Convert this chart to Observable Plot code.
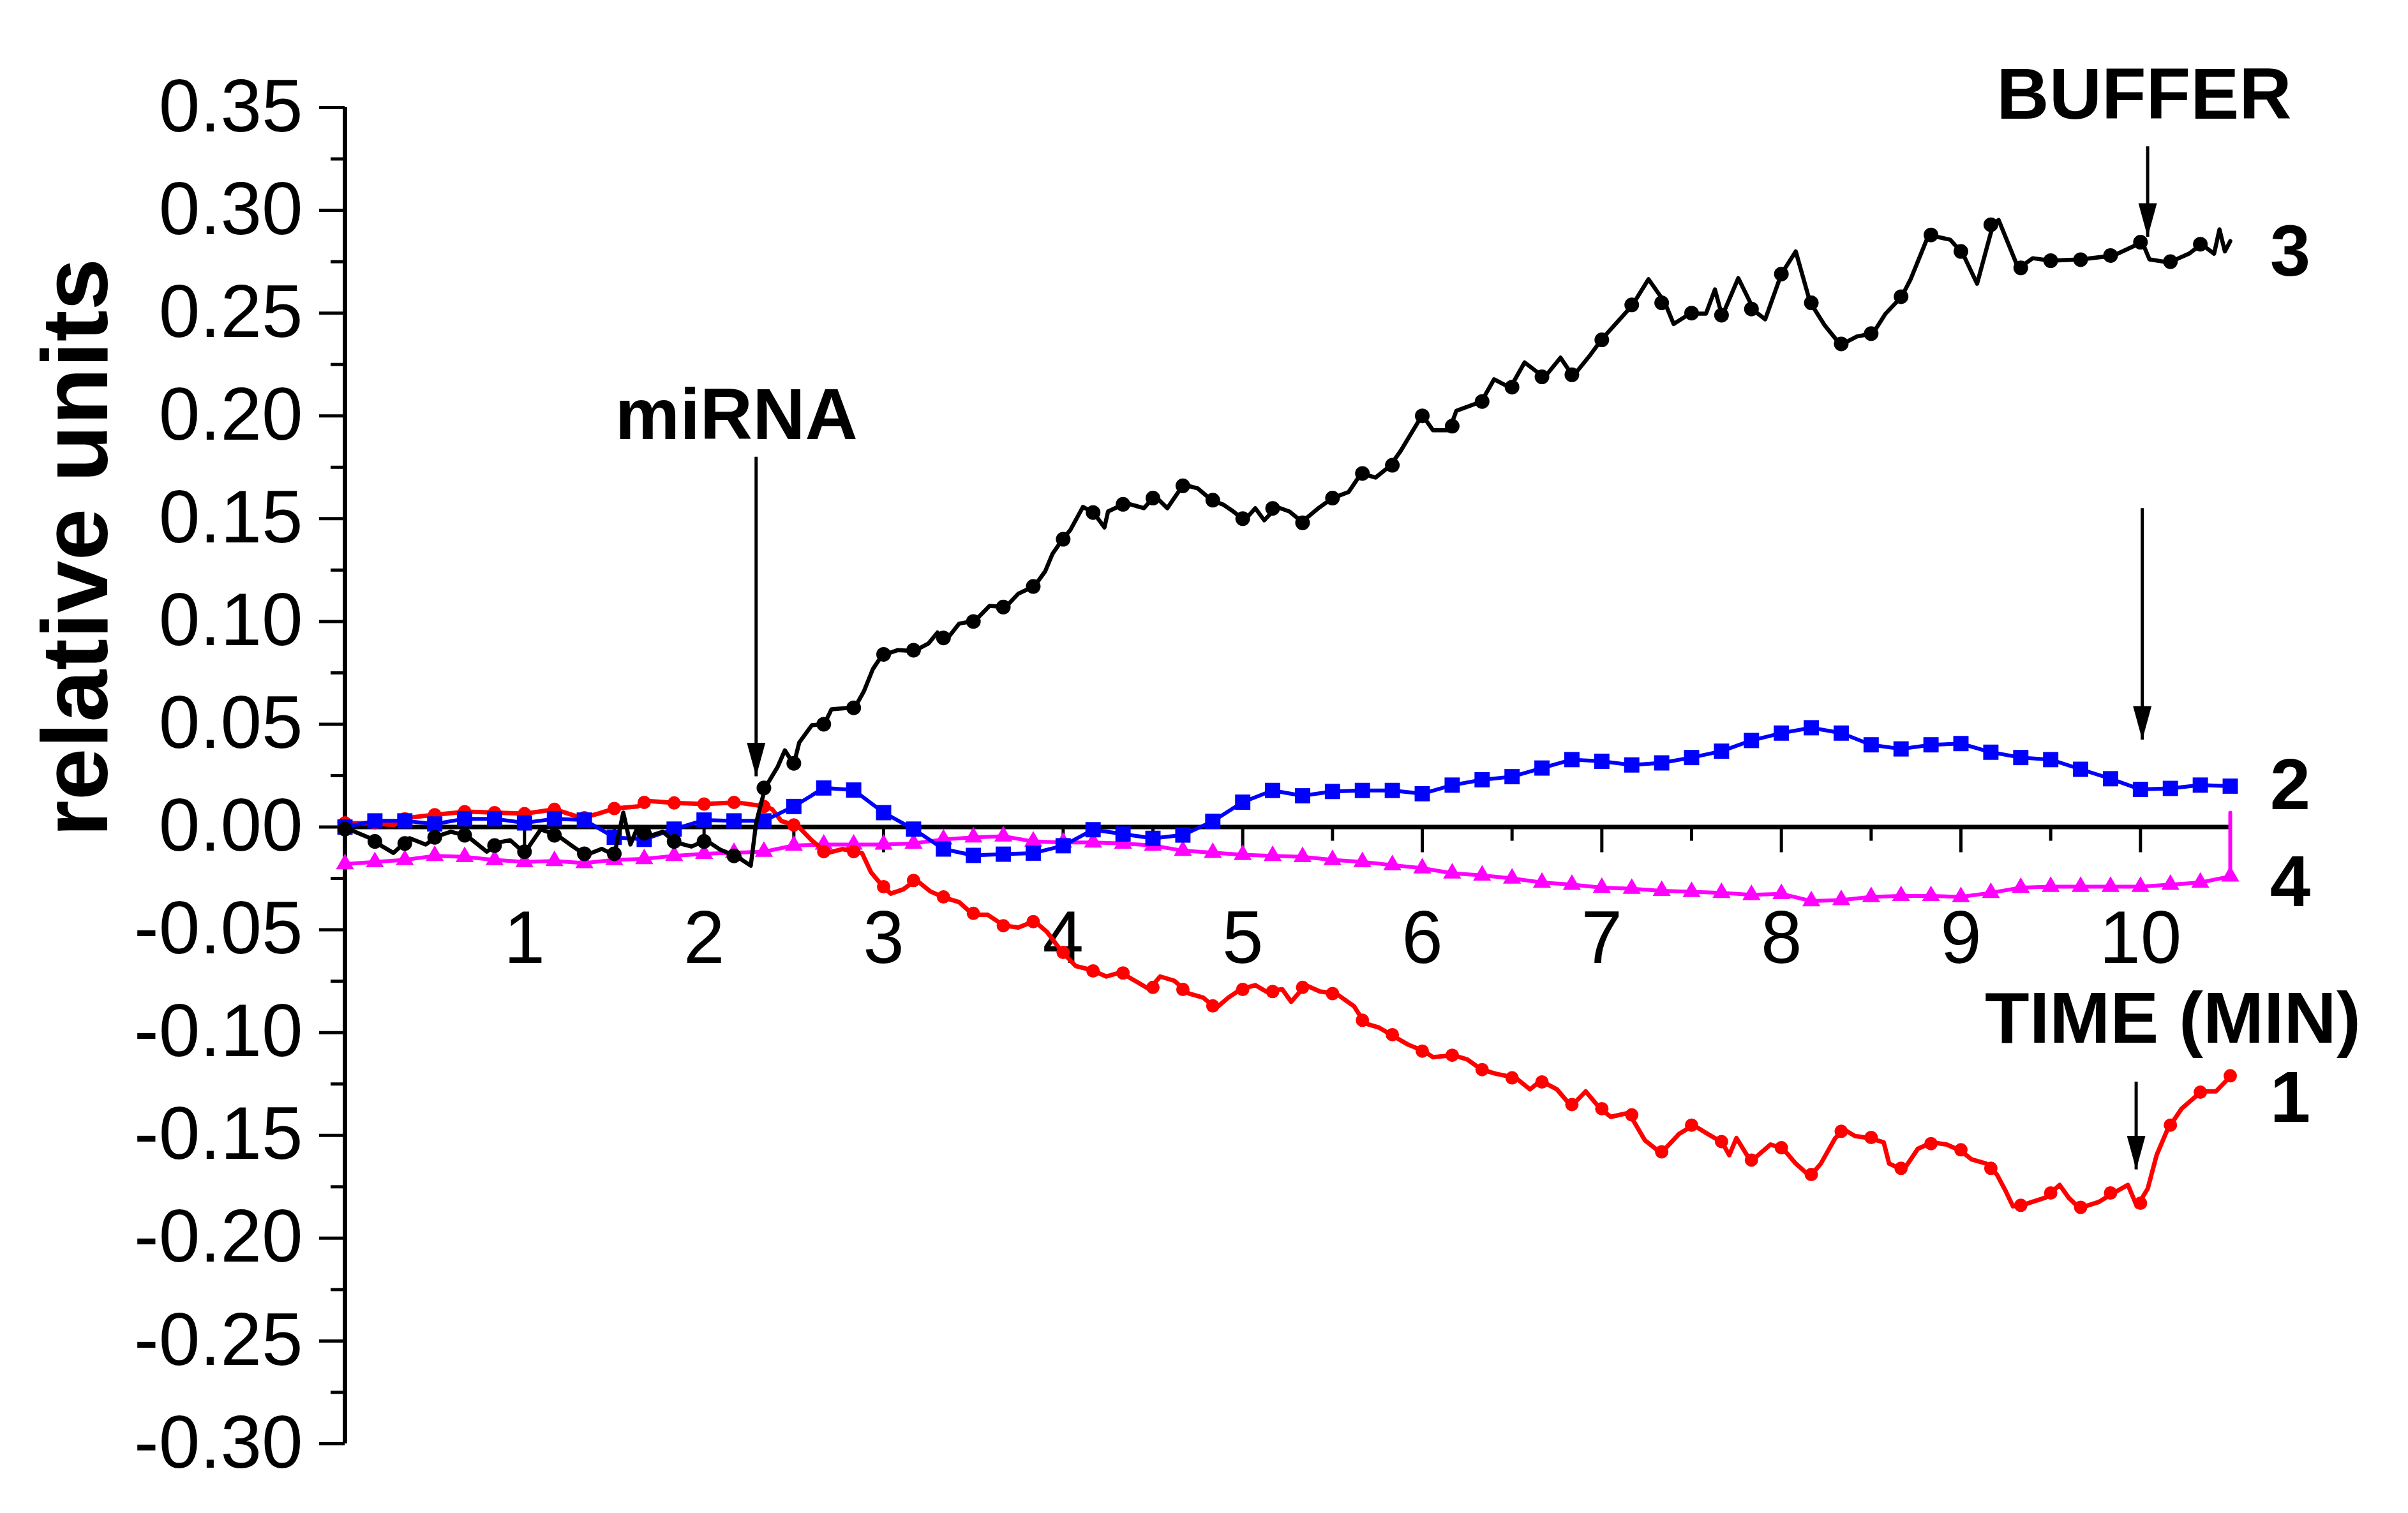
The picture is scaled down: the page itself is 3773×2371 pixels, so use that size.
<!DOCTYPE html>
<html>
<head>
<meta charset="utf-8">
<script src="https://cdn.jsdelivr.net/npm/d3@7"></script>
<script src="https://cdn.jsdelivr.net/npm/@observablehq/plot@0.6"></script>
<style>
  html, body { margin: 0; padding: 0; background: #ffffff; }
  svg { display: block; }
</style>
</head>
<body>
<div id="chart"></div>
<script>
// ---------------- DATA ----------------
// Sampling instants of the markers (seconds); every series has a marker every 10 s.
const sampleSec = [0,10,20,30,40,50,60,70,80,90,100,110,120,130,140,150,160,170,180,190,
  200,210,220,230,240,250,260,270,280,290,300,310,320,330,340,350,360,370,380,390,
  400,410,420,430,440,450,460,470,480,490,500,510,520,530,540,550,560,570,580,590,
  600,610,620,630];

// Curve 1 (red, circles) - marker values
const curve1Red = [0.002,0.002,0.004,0.006,0.0075,0.007,0.0065,0.0086,0.0045,0.009,
  0.012,0.0117,0.0112,0.012,0.010,0.001,-0.012,-0.012,-0.029,-0.026,
  -0.034,-0.042,-0.048,-0.046,-0.061,-0.070,-0.071,-0.078,-0.079,-0.087,
  -0.079,-0.080,-0.078,-0.081,-0.094,-0.101,-0.109,-0.111,-0.118,-0.122,
  -0.124,-0.135,-0.137,-0.140,-0.158,-0.145,-0.153,-0.162,-0.156,-0.169,
  -0.148,-0.151,-0.166,-0.154,-0.157,-0.166,-0.184,-0.178,-0.185,-0.178,
  -0.183,-0.145,-0.129,-0.121];

// Curve 1 continuous trace (time in min, value)
const curve1TraceMin = [0.02,0.14,0.27,0.34,0.50,0.68,0.84,1.00,1.17,1.32,1.41,1.50,1.63,1.68,1.84,2.00,2.18,2.34,2.38,2.43,
  2.52,2.60,2.685,2.77,2.88,2.93,3.00,3.04,3.11,3.18,3.26,3.34,3.42,3.50,3.58,3.67,3.75,3.84,3.91,3.99,
  4.07,4.16,4.24,4.32,4.40,4.48,4.54,4.62,4.70,4.78,4.85,4.92,4.99,5.07,5.13,5.22,5.27,5.35,5.43,5.52,
  5.62,5.68,5.76,5.84,5.92,6.01,6.06,6.17,6.25,6.33,6.41,6.52,6.60,6.66,6.75,6.83,6.91,6.99,7.05,7.15,
  7.24,7.33,7.43,7.51,7.59,7.67,7.71,7.75,7.83,7.94,8.01,8.08,8.16,8.22,8.30,8.35,8.41,8.49,8.57,8.60,
  8.68,8.76,8.84,8.92,9.00,9.06,9.14,9.20,9.25,9.29,9.36,9.47,9.55,9.60,9.66,9.77,9.85,9.93,9.98,10.04,
  10.09,10.15,10.23,10.34,10.42,10.50];
const curve1Trace = [0.0019,0.0019,0.001,0.0044,0.006,0.0075,0.007,0.0065,0.0086,0.0044,0.0065,0.009,0.010,0.0127,0.0117,0.0112,0.012,0.010,0.0086,0.0029,
  0.0007,-0.0065,-0.0127,-0.0107,-0.0127,-0.022,-0.0293,-0.0324,-0.0303,-0.0257,-0.0313,-0.0344,-0.0365,-0.0427,-0.0427,-0.0479,-0.0489,-0.0458,-0.051,-0.0603,
  -0.0676,-0.0696,-0.0727,-0.0707,-0.0748,-0.0789,-0.0727,-0.0748,-0.081,-0.083,-0.0882,-0.083,-0.0789,-0.0769,-0.080,-0.0789,-0.085,-0.0769,-0.080,-0.081,
  -0.0872,-0.0955,-0.0976,-0.1017,-0.1058,-0.109,-0.112,-0.111,-0.113,-0.118,-0.120,-0.122,-0.1276,-0.1234,-0.1276,-0.1358,-0.1286,-0.1369,-0.141,-0.139,
  -0.1524,-0.1586,-0.1493,-0.145,-0.1493,-0.1534,-0.1596,-0.1513,-0.1627,-0.1544,-0.1565,-0.1637,-0.1699,-0.1637,-0.1513,-0.1472,-0.1503,-0.1513,-0.1534,-0.1637,
  -0.1669,-0.1565,-0.1534,-0.1544,-0.1575,-0.1617,-0.1637,-0.169,-0.1772,-0.1845,-0.1834,-0.1803,-0.1741,-0.1803,-0.1854,-0.1823,-0.178,-0.1741,-0.1845,-0.176,
  -0.1596,-0.1472,-0.1369,-0.1286,-0.1286,-0.1214];

// Curve 2 (blue, squares)
const curve2Blue = [0.000,0.003,0.003,0.0015,0.004,0.004,0.002,0.004,0.0034,-0.005,
  -0.006,-0.001,0.0034,0.003,0.003,0.010,0.019,0.018,0.007,-0.001,
  -0.0107,-0.0138,-0.0132,-0.0127,-0.0091,-0.0013,-0.0034,-0.0055,-0.0039,0.0028,
  0.0121,0.0178,0.0152,0.0173,0.0178,0.0178,0.0162,0.0204,0.023,0.0245,
  0.0287,0.0328,0.032,0.0302,0.0312,0.0338,0.0369,0.0421,0.0457,0.0483,
  0.0457,0.040,0.038,0.040,0.0406,0.0364,0.0338,0.0328,0.0281,0.0235,
  0.0183,0.0188,0.0204,0.0199];

// Curve 3 (black, circles) - marker values (no marker at the last instant)
const curve3Black = [-0.001,-0.007,-0.008,-0.005,-0.004,-0.009,-0.012,-0.004,-0.013,-0.013,
  -0.003,-0.007,-0.007,-0.014,0.019,0.031,0.050,0.058,0.084,0.086,
  0.092,0.100,0.107,0.117,0.140,0.153,0.157,0.160,0.166,0.159,
  0.150,0.155,0.148,0.160,0.172,0.176,0.200,0.195,0.207,0.214,
  0.219,0.220,0.237,0.254,0.255,0.250,0.249,0.252,0.269,0.255,
  0.235,0.240,0.258,0.288,0.280,0.293,0.272,0.2755,0.276,0.278,
  0.2845,0.275,0.2835,null];

// Curve 3 continuous trace
const curve3TraceMin = [0.02,0.13,0.21,0.27,0.36,0.45,0.52,0.59,0.68,0.79,0.86,0.92,1.00,1.09,1.18,1.27,1.34,1.43,1.50,1.55,
  1.59,1.63,1.70,1.77,1.84,1.93,2.01,2.09,2.18,2.26,2.29,2.34,2.41,2.45,2.50,2.53,2.60,2.67,2.71,2.84,
  2.89,2.94,2.99,3.08,3.17,3.25,3.30,3.35,3.42,3.51,3.59,3.68,3.75,3.84,3.90,3.94,4.00,4.04,4.11,4.17,
  4.23,4.25,4.35,4.45,4.51,4.58,4.67,4.75,4.83,4.89,4.94,5.01,5.07,5.12,5.19,5.26,5.33,5.42,5.50,5.59,
  5.66,5.74,5.82,5.88,6.00,6.06,6.15,6.19,6.33,6.40,6.49,6.57,6.68,6.77,6.84,6.93,7.00,7.17,7.26,7.35,
  7.40,7.49,7.58,7.63,7.67,7.76,7.85,7.91,8.00,8.08,8.16,8.24,8.33,8.42,8.51,8.58,8.67,8.72,8.82,8.94,
  9.01,9.09,9.18,9.21,9.32,9.40,9.50,9.67,9.85,10.01,10.05,10.16,10.27,10.34,10.41,10.44,10.47,10.50];
const curve3Trace = [-0.001,-0.005,-0.0095,-0.0126,-0.0054,-0.0085,-0.0043,-0.0023,-0.0043,-0.012,-0.0074,-0.0064,-0.0126,-0.0012,-0.0038,-0.0095,-0.0137,-0.0106,-0.0137,0.007,
  -0.0085,0.0,-0.0043,-0.0023,-0.0074,-0.0095,-0.0064,-0.011,-0.0142,-0.0188,0.002,0.0191,0.0293,0.0373,0.0305,0.0411,0.0495,0.0501,0.0573,0.0582,
  0.066,0.0768,0.0834,0.0861,0.0856,0.0893,0.0946,0.0911,0.0989,0.1004,0.1076,0.107,0.1135,0.1172,0.1244,0.1328,0.1404,0.1445,0.1557,0.1529,
  0.1457,0.1535,0.1576,0.1551,0.1611,0.1551,0.1666,0.1647,0.1588,0.1569,0.154,0.1492,0.1551,0.1492,0.1557,0.1535,0.1485,0.155,0.160,0.163,
  0.172,0.170,0.1756,0.183,0.2004,0.193,0.193,0.2025,0.207,0.2178,0.2137,0.226,0.2187,0.2283,0.2193,0.229,0.2373,0.2538,0.2665,0.2553,
  0.2447,0.2497,0.2497,0.2615,0.2485,0.267,0.251,0.247,0.269,0.280,0.2553,0.2442,0.2345,0.2386,0.2401,0.2497,0.258,0.2665,0.288,0.2857,
  0.279,0.2643,0.2934,0.2953,0.2717,0.2767,0.2755,0.2761,0.278,0.2845,0.2761,0.2746,0.2789,0.2835,0.2789,0.2907,0.280,0.285];

// Curve 4 (magenta, triangles)
const curve4Magenta = [-0.018,-0.017,-0.016,-0.014,-0.0145,-0.016,-0.017,-0.0165,-0.0175,-0.016,
  -0.0155,-0.014,-0.013,-0.0125,-0.012,-0.009,-0.0085,-0.0085,-0.0085,-0.008,
  -0.006,-0.005,-0.0045,-0.007,-0.0075,-0.0075,-0.008,-0.009,-0.0115,-0.0125,
  -0.0135,-0.014,-0.0145,-0.016,-0.017,-0.0185,-0.020,-0.0225,-0.0235,-0.025,
  -0.027,-0.028,-0.0295,-0.030,-0.031,-0.0315,-0.032,-0.033,-0.0325,-0.036,
  -0.0355,-0.034,-0.0335,-0.0335,-0.034,-0.032,-0.0295,-0.029,-0.029,-0.029,
  -0.029,-0.028,-0.027,-0.024];
// final vertical jump of curve 4 at the end of the record
const curve4EndMin = 10.5;
const curve4EndValue = 0.007;

// Axis ticks
const xMajorTicks = [1,2,3,4,5,6,7,8,9,10];
const xMinorTicks = [0.5,1.5,2.5,3.5,4.5,5.5,6.5,7.5,8.5,9.5,10.5];
const yMajorTicks = [0.35,0.30,0.25,0.20,0.15,0.10,0.05,0.00,-0.05,-0.10,-0.15,-0.20,-0.25,-0.30];
const yMinorTicks = [0.325,0.275,0.225,0.175,0.125,0.075,0.025,-0.025,-0.075,-0.125,-0.175,-0.225,-0.275];

// Annotations
const yAxisTitle = "relative units";
const noteLabels = ["miRNA", "BUFFER", "TIME (MIN)"];
const noteMin = [2.18, 10.02, 10.18];
const noteValue = [0.200, 0.356, -0.0935];
const arrowMin = [2.29, 10.04, 10.01, 9.976];
const arrowFrom = [0.180, 0.331, 0.155, -0.124];
const arrowTo = [0.0245, 0.287, 0.0424, -0.1667];
const curveNames = ["1", "2", "3", "4"];

// ---------------- BUILD ----------------
const t = sampleSec.map(s => s / 60);
const pts = vals => vals.map((v, i) => ({t: t[i], v}));
const trace = (ts, vs) => ts.map((x, i) => ({t: x, v: vs[i]}));

const red = pts(curve1Red), blue = pts(curve2Blue), black = pts(curve3Black), magenta = pts(curve4Magenta);
const redTrace = trace(curve1TraceMin, curve1Trace);
const blackTrace = trace(curve3TraceMin, curve3Trace);
const magentaLine = magenta.concat([{t: curve4EndMin, v: curve4EndValue}]);
const notes = noteLabels.map((label, i) => ({label, t: noteMin[i], v: noteValue[i]}));
const arrows = arrowMin.map((x, i) => ({t: x, from: arrowFrom[i], to: arrowTo[i]}));

const last = a => a[a.length - 1];
// curve label, placed to the right of the end of each series
function endLabel(name, value, dy) {
  return Plot.text([{label: name, t: 10.5, v: value}], {
    x: "t", y: "v", text: "label", dx: 94, dy, fontSize: 114, fontWeight: "bold", fill: "#000"
  });
}

const arrowHead = {draw(ctx) { ctx.moveTo(0, 0); ctx.lineTo(-14.5, -53); ctx.lineTo(14.5, -53); ctx.closePath(); }};

const RED = "#ff0000", BLUE = "#0000ff", MAG = "#ff00ff", BLK = "#000000";
const FONT = '"Liberation Sans", Arial, Helvetica, sans-serif';

const chart = Plot.plot({
  width: 3773,
  height: 2371,
  marginTop: 168,
  marginRight: 279,
  marginBottom: 109,
  marginLeft: 540,
  x: {domain: [0, 10.5], axis: null},
  y: {domain: [-0.30, 0.35], axis: null},
  style: {fontFamily: FONT, background: "white", overflow: "visible"},
  marks: [
    // y axis ticks and labels
    Plot.ruleY(yMinorTicks, {y: d => d, x1: 0, x2: 0, insetLeft: -22, strokeWidth: 5, stroke: BLK}),
    Plot.ruleY(yMajorTicks, {y: d => d, x1: 0, x2: 0, insetLeft: -40, strokeWidth: 5, stroke: BLK}),
    Plot.text(yMajorTicks, {x: 0, y: d => d, text: d => d.toFixed(2), textAnchor: "end", dx: -66, fontSize: 116, fill: BLK}),
    // x axis (at y = 0) ticks and labels
    Plot.ruleX(xMinorTicks, {x: d => d, y1: 0, y2: 0, insetBottom: -22, strokeWidth: 5, stroke: BLK}),
    Plot.ruleX(xMajorTicks, {x: d => d, y1: 0, y2: 0, insetBottom: -40, strokeWidth: 5, stroke: BLK}),
    Plot.text(xMajorTicks, {x: d => d, y: 0, text: d => String(d), dy: 176, fontSize: 116, fill: BLK}),
    Plot.ruleY([0], {strokeWidth: 7, stroke: BLK}),
    Plot.ruleX([0], {strokeWidth: 7, stroke: BLK}),

    // curve 4 magenta
    Plot.line(magentaLine, {x: "t", y: "v", stroke: MAG, strokeWidth: 6}),
    Plot.dot(magenta, {x: "t", y: "v", symbol: "triangle", r: 10.5, fill: MAG, stroke: "none"}),
    // curve 1 red
    Plot.line(redTrace, {x: "t", y: "v", stroke: RED, strokeWidth: 7}),
    Plot.dot(red, {x: "t", y: "v", symbol: "circle", r: 10.5, fill: RED, stroke: "none"}),
    // curve 2 blue
    Plot.line(blue, {x: "t", y: "v", stroke: BLUE, strokeWidth: 6}),
    Plot.dot(blue, {x: "t", y: "v", symbol: "square", r: 13.5, fill: BLUE, stroke: "none"}),
    // curve 3 black
    Plot.line(blackTrace, {x: "t", y: "v", stroke: BLK, strokeWidth: 6.5}),
    Plot.dot(black, {x: "t", y: "v", symbol: "circle", r: 11.5, fill: BLK, stroke: "none"}),

    // arrows
    Plot.ruleX(arrows, {x: "t", y1: "from", y2: "to", strokeWidth: 5, stroke: BLK}),
    Plot.dot(arrows, {x: "t", y: "to", symbol: arrowHead, r: 5, fill: BLK, stroke: "none"}),

    // annotations
    Plot.text(notes, {x: "t", y: "v", text: "label", fontSize: 114, fontWeight: "bold", fill: BLK}),
    endLabel(curveNames[0], last(curve1Trace), 34),
    endLabel(curveNames[1], last(curve2Blue), 0),
    endLabel(curveNames[2], last(curve3Trace), 18),
    endLabel(curveNames[3], last(curve4Magenta), 10),

    // y axis title
    Plot.text([yAxisTitle], {frameAnchor: "left", text: d => d, rotate: -90, dx: -420, dy: 96, fontSize: 147, fontWeight: "bold", fill: BLK})
  ]
});
document.getElementById("chart").append(chart);
</script>
</body>
</html>
